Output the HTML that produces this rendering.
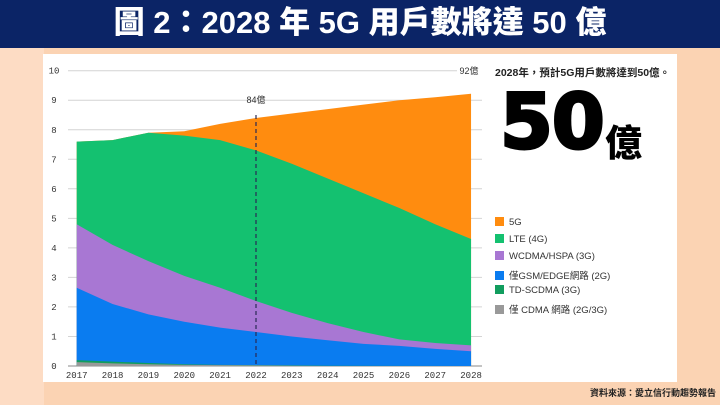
<!DOCTYPE html>
<html><head><meta charset="utf-8"><style>
body{margin:0;width:720px;height:405px;overflow:hidden;background:#FBD3B3;font-family:"Liberation Sans","Noto Sans CJK TC",sans-serif;position:relative}
.hdr{position:absolute;left:0;top:0;width:720px;height:48px;background:#0B2466;color:#fff;font-weight:900;font-size:31px;text-align:center;line-height:46px;font-family:"Liberation Sans","Noto Sans CJK TC",sans-serif}
.strip{position:absolute;left:0;top:48px;width:44px;height:357px;background:#FDDCC4}
.card{position:absolute;left:43px;top:54px;width:634px;height:328px;background:#fff}
.t{position:absolute;white-space:nowrap}
.lg{position:absolute;left:495px;font-size:9.5px;color:#333;white-space:nowrap}
.lg i{display:inline-block;width:9px;height:9px;vertical-align:-1px;margin-right:5px}
</style></head><body>
<div class="hdr">圖 2：2028 年 5G 用戶數將達 50 億</div>
<div class="strip"></div>
<div class="card"></div>
<svg style="position:absolute;left:0;top:0" width="720" height="405">
<g stroke="#d4d4d4" stroke-width="1">
<line x1="68" x2="482" y1="366" y2="366" stroke="#888"/>
<line x1="68" x2="482" y1="336.5" y2="336.5"/><line x1="68" x2="482" y1="306.9" y2="306.9"/>
<line x1="68" x2="482" y1="277.4" y2="277.4"/><line x1="68" x2="482" y1="247.9" y2="247.9"/>
<line x1="68" x2="482" y1="218.4" y2="218.4"/><line x1="68" x2="482" y1="188.8" y2="188.8"/>
<line x1="68" x2="482" y1="159.3" y2="159.3"/><line x1="68" x2="482" y1="129.8" y2="129.8"/>
<line x1="68" x2="482" y1="100.2" y2="100.2"/><line x1="68" x2="457" y1="70.7" y2="70.7"/>
</g>
<g transform="translate(76.7,366) scale(35.85,-29.53)">
<polygon fill="#FF8C0F" points="0,0 0,7.6 1,7.65 2,7.9 3,7.95 4,8.2 5,8.4 6,8.55 7,8.7 8,8.85 9,9.0 10,9.1 11,9.22 11,0"/>
<polygon fill="#14C170" points="0,0 0,7.6 1,7.65 2,7.9 3,7.8 4,7.65 5,7.3 6,6.85 7,6.35 8,5.85 9,5.35 10,4.8 11,4.3 11,0"/>
<polygon fill="#A877D3" points="0,0 0,4.8 1,4.1 2,3.55 3,3.05 4,2.65 5,2.2 6,1.8 7,1.45 8,1.15 9,0.9 10,0.78 11,0.7 11,0"/>
<polygon fill="#0A7CF0" points="0,0 0,2.65 1,2.1 2,1.75 3,1.5 4,1.3 5,1.15 6,1.0 7,0.87 8,0.75 9,0.68 10,0.58 11,0.5 11,0"/>
<polygon fill="#119D5E" points="0,0 0,0.2 1,0.15 2,0.1 3,0.06 4,0.04 5,0.03 6,0.02 7,0.01 11,0"/>
<polygon fill="#999" points="0,0 0,0.13 1,0.09 2,0.06 3,0.04 4,0.03 5,0.02 6,0.01 7,0"/>
</g>
<line x1="256" x2="256" y1="115" y2="366" stroke="#2a2a55" stroke-width="1.2" stroke-dasharray="4,3"/>
<g font-family="Liberation Mono,monospace" font-size="9" fill="#333" text-anchor="middle">
<text x="54" y="369">0</text><text x="54" y="339.5">1</text><text x="54" y="310">2</text><text x="54" y="280.4">3</text><text x="54" y="251">4</text><text x="54" y="221.4">5</text><text x="54" y="192">6</text><text x="54" y="162.3">7</text><text x="54" y="133">8</text><text x="54" y="103.2">9</text><text x="54" y="73.7">10</text>
<text x="76.7" y="378">2017</text><text x="112.6" y="378">2018</text><text x="148.4" y="378">2019</text><text x="184.3" y="378">2020</text><text x="220.1" y="378">2021</text><text x="256" y="378">2022</text><text x="291.8" y="378">2023</text><text x="327.7" y="378">2024</text><text x="363.5" y="378">2025</text><text x="399.4" y="378">2026</text><text x="435.2" y="378">2027</text><text x="471.1" y="378">2028</text>
</g>
<g font-size="9" fill="#333" font-family="Liberation Sans,Noto Sans CJK TC,sans-serif" text-anchor="middle">
<text x="256" y="103">84億</text><text x="469" y="74">92億</text>
</g>
</svg>
<div class="t" style="left:495px;top:65px;font-size:10.5px;font-weight:bold;color:#222">2028年，預計5G用戶數將達到50億。</div>
<div class="t" style="left:500px;top:82px;font-size:76px;font-weight:900;color:#000;line-height:80px;font-family:'DejaVu Sans','Liberation Sans',sans-serif;letter-spacing:-1px;-webkit-text-stroke:3px #000">50</div>
<div class="t" style="left:605px;top:124px;font-size:37px;font-weight:900;color:#000;line-height:40px">億</div>
<div class="lg" style="top:217px"><i style="background:#FF8C0F"></i>5G</div>
<div class="lg" style="top:234px"><i style="background:#14C170"></i>LTE (4G)</div>
<div class="lg" style="top:251px"><i style="background:#A877D3"></i>WCDMA/HSPA (3G)</div>
<div class="lg" style="top:268px"><i style="background:#0A7CF0"></i>僅GSM/EDGE網路 (2G)</div>
<div class="lg" style="top:285px"><i style="background:#119D5E"></i>TD-SCDMA (3G)</div>
<div class="lg" style="top:302px"><i style="background:#999"></i>僅 CDMA 網路 (2G/3G)</div>
<div class="t" style="left:590px;top:386px;font-size:9px;font-weight:bold;color:#222">資料來源：愛立信行動趨勢報告</div>
</body></html>
